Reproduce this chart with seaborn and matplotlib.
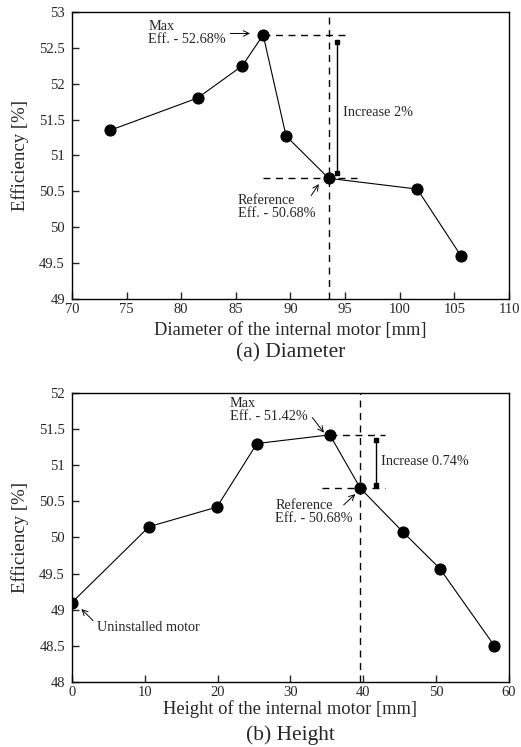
import pandas as pd
import matplotlib.pyplot as plt
import seaborn as sns

# (a) diameter sweep
diameter_mm = [73.5, 81.5, 85.6, 87.5, 89.6, 93.5, 101.6, 105.6]
diameter_eff = [51.35, 51.80, 52.25, 52.68, 51.27, 50.68, 50.53, 49.60]

# (b) height sweep
height_mm = [0, 10.6, 19.9, 25.4, 35.4, 39.6, 45.5, 50.5, 58.0]
height_eff = [49.10, 50.15, 50.42, 51.30, 51.42, 50.68, 50.07, 49.57, 48.50]

sns.set_style("ticks")
plt.rcParams["font.family"] = ["Liberation Serif", "DejaVu Serif"]
plt.rcParams["xtick.direction"] = "in"
plt.rcParams["ytick.direction"] = "in"

fig = plt.figure(figsize=(5.21, 7.47), dpi=100)
ax1 = fig.add_axes([0.138, 0.600, 0.839, 0.384])
ax2 = fig.add_axes([0.138, 0.087, 0.839, 0.387])

df1 = pd.DataFrame({"d": diameter_mm, "eff": diameter_eff})
df2 = pd.DataFrame({"h": height_mm, "eff": height_eff})

sns.lineplot(data=df1, x="d", y="eff", ax=ax1, color="black", lw=0.8,
             marker="o", markersize=8, markeredgecolor="black")
sns.lineplot(data=df2, x="h", y="eff", ax=ax2, color="black", lw=0.8,
             marker="o", markersize=8, markeredgecolor="black")

dash = dict(color="black", lw=1.0, ls=(0, (5, 4)))
fs = 10.3
arr = dict(arrowstyle="->", lw=0.7, color="black", shrinkA=0, shrinkB=0)

# --- (a) annotations
ax1.axvline(93.5, **dash)
ax1.plot([87.5, 95.4], [52.68, 52.68], **dash)
ax1.plot([87.5, 96.1], [50.68, 50.68], **dash)
ax1.plot([94.3, 94.3], [50.75, 52.58], color="black", lw=1.0,
         marker="s", markersize=2.5)
ax1.text(94.8, 51.6, "Increase 2%", fontsize=fs, va="center")
ax1.text(77.0, 52.70, "Max\nEff. - 52.68%", fontsize=fs, va="center",
         linespacing=1.0)
ax1.annotate("", xy=(86.3, 52.70), xytext=(84.5, 52.70), arrowprops=arr)
ax1.text(85.2, 50.28, "Reference\nEff. - 50.68%", fontsize=fs, va="center",
         linespacing=1.0)
ax1.annotate("", xy=(92.6, 50.60), xytext=(91.9, 50.44), arrowprops=arr)

ax1.set_xlim(70, 110)
ax1.set_ylim(49, 53)
ax1.set_xticks(range(70, 111, 5))
ax1.set_yticks([49, 49.5, 50, 50.5, 51, 51.5, 52, 52.5, 53])
ax1.set_yticklabels(["49", "49.5", "50", "50.5", "51", "51.5", "52", "52.5", "53"])
ax1.set_xlabel("Diameter of the internal motor [mm]", fontsize=13.3, labelpad=4)
ax1.set_ylabel("Efficiency [%]", fontsize=13.5, labelpad=7)

# --- (b) annotations
ax2.axvline(39.6, **dash)
ax2.plot([35.4, 43.0], [51.42, 51.42], **dash)
ax2.plot([34.3, 43.0], [50.68, 50.68], **dash)
ax2.plot([41.8, 41.8], [50.72, 51.35], color="black", lw=1.0,
         marker="s", markersize=2.5)
ax2.text(42.4, 51.05, "Increase 0.74%", fontsize=fs, va="center")
ax2.text(21.7, 51.76, "Max\nEff. - 51.42%", fontsize=fs, va="center",
         linespacing=1.0)
ax2.annotate("", xy=(34.6, 51.45), xytext=(33.0, 51.66), arrowprops=arr)
ax2.text(27.9, 50.35, "Reference\nEff. - 50.68%", fontsize=fs, va="center",
         linespacing=1.0)
ax2.annotate("", xy=(38.9, 50.60), xytext=(37.3, 50.45), arrowprops=arr)
ax2.text(3.4, 48.76, "Uninstalled motor", fontsize=fs, va="center")
ax2.annotate("", xy=(1.3, 49.01), xytext=(2.9, 48.85), arrowprops=arr)

ax2.set_xlim(0, 60)
ax2.set_ylim(48, 52)
ax2.set_xticks(range(0, 61, 10))
ax2.set_yticks([48, 48.5, 49, 49.5, 50, 50.5, 51, 51.5, 52])
ax2.set_yticklabels(["48", "48.5", "49", "49.5", "50", "50.5", "51", "51.5", "52"])
ax2.set_xlabel("Height of the internal motor [mm]", fontsize=13.3, labelpad=1)
ax2.set_ylabel("Efficiency [%]", fontsize=13.5, labelpad=7)

for ax in (ax1, ax2):
    for s in ax.spines.values():
        s.set_linewidth(1.0)
        s.set_color("black")
    ax.tick_params(labelsize=10.5, length=5, width=1.0)
    ax.tick_params(axis="x", pad=3)
    ax.tick_params(axis="y", pad=5)
    ax.grid(False)

fig.text(0.138 + 0.839 / 2, 1 - 353 / 747, "(a) Diameter", ha="center",
         va="center", fontsize=15.4)
fig.text(0.138 + 0.839 / 2, 1 - 735 / 747, "(b) Height", ha="center",
         va="center", fontsize=15.4)

plt.savefig("out.png", dpi=100)
